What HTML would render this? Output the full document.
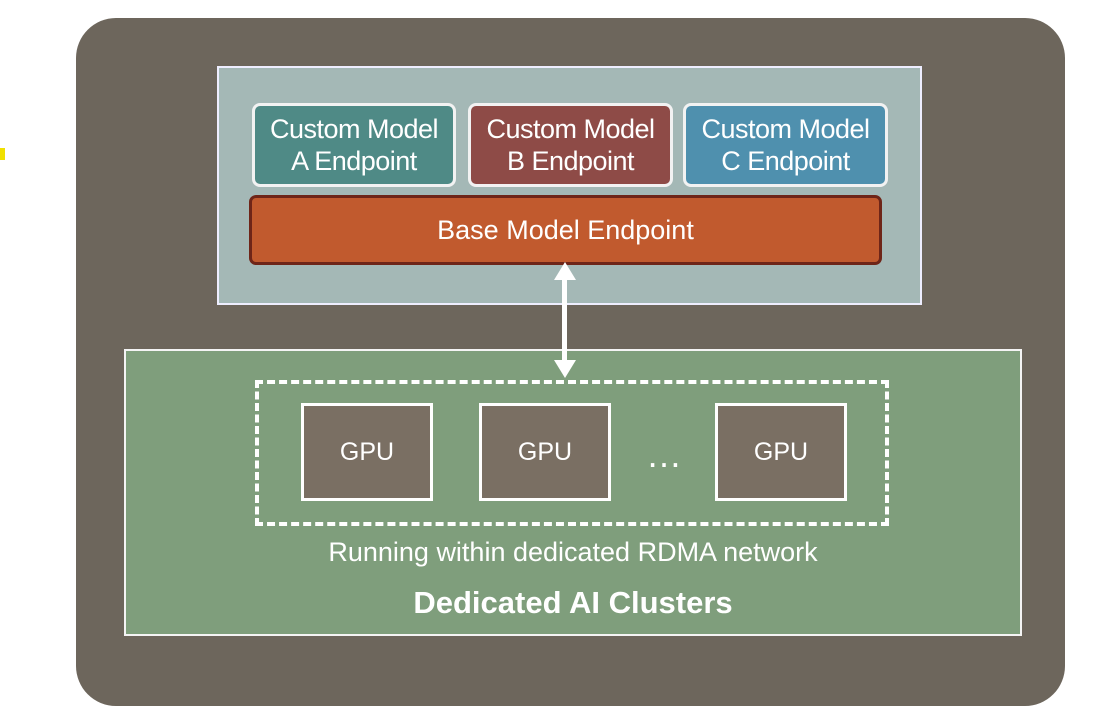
<!DOCTYPE html>
<html><head><style>
body{margin:0;width:1096px;height:717px;background:#fff;position:relative;overflow:hidden;font-family:"Liberation Sans",sans-serif;color:#fff}
.a{position:absolute;box-sizing:border-box}
.t{display:flex;align-items:center;justify-content:center;text-align:center}
</style></head><body>
<div class="a" style="left:0;top:148px;width:5px;height:12px;background:#f0e000"></div>
<div class="a" style="left:76px;top:18px;width:989px;height:688px;background:#6d665c;border-radius:40px"></div>
<div class="a" style="left:217px;top:66px;width:705px;height:239px;background:#a4b8b6;border:2px solid #eef"></div>
<div class="a t" style="left:252px;top:103px;width:204px;height:84px;background:#4f8a86;border:3px solid #f2f2f2;border-radius:8px;font-size:27px;line-height:32px;letter-spacing:-0.5px">Custom Model<br>A Endpoint</div>
<div class="a t" style="left:468px;top:103px;width:205px;height:84px;background:#8e4b47;border:3px solid #f2f2f2;border-radius:8px;font-size:27px;line-height:32px;letter-spacing:-0.5px">Custom Model<br>B Endpoint</div>
<div class="a t" style="left:683px;top:103px;width:205px;height:84px;background:#4f90ae;border:3px solid #f2f2f2;border-radius:8px;font-size:27px;line-height:32px;letter-spacing:-0.5px">Custom Model<br>C Endpoint</div>
<div class="a t" style="left:249px;top:195px;width:633px;height:70px;background:#c15a2e;border:3px solid #6e2518;border-radius:7px;font-size:27px">Base Model Endpoint</div>
<div class="a" style="left:124px;top:349px;width:898px;height:287px;background:#7f9e7c;border:2px solid #f4f4f4"></div>
<div class="a" style="left:562px;top:278px;width:5px;height:88px;background:#fff"></div>
<svg class="a" style="left:554px;top:262px" width="22" height="118"><polygon points="11,0 0,18 22,18" fill="#fff"/><polygon points="11,116 0,98 22,98" fill="#fff"/></svg>
<div class="a" style="left:255px;top:380px;width:634px;height:146px;border:4px dashed #fff"></div>
<div class="a t" style="left:301px;top:403px;width:132px;height:98px;background:#7a6f63;border:3px solid #fff;font-size:25px">GPU</div>
<div class="a t" style="left:479px;top:403px;width:132px;height:98px;background:#7a6f63;border:3px solid #fff;font-size:25px">GPU</div>
<div class="a t" style="left:715px;top:403px;width:132px;height:98px;background:#7a6f63;border:3px solid #fff;font-size:25px">GPU</div>
<div class="a t" style="left:629px;top:435px;width:70px;height:40px;font-size:36px">…</div>
<div class="a t" style="left:124px;top:535px;width:898px;height:34px;font-size:27px">Running within dedicated RDMA network</div>
<div class="a t" style="left:124px;top:583px;width:898px;height:40px;font-size:31px;font-weight:bold">Dedicated AI Clusters</div>
</body></html>
